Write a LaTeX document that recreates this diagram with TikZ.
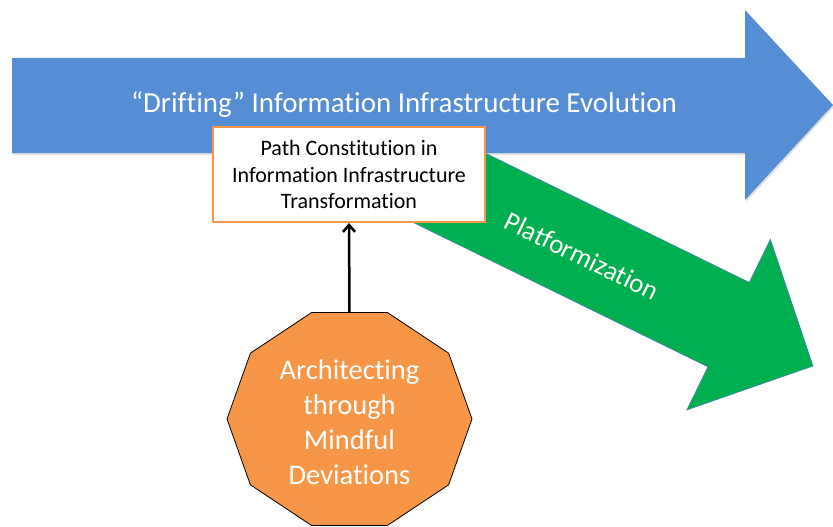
\documentclass[tikz,border=0pt]{standalone}
\usepackage{fontspec}
\setmainfont{Carlito}[Ligatures=NoCommon]
\usetikzlibrary{arrows.meta, shadows}

\definecolor{evoblue}{HTML}{558ED5}
\definecolor{platgreen}{HTML}{00B050}
\definecolor{edgeblue}{HTML}{4A7EBB}
\definecolor{boxorange}{HTML}{F79646}
\definecolor{archorange}{HTML}{F79646}

\begin{document}
\begin{tikzpicture}[
  x=1pt, y=-1pt,
  evoarrow/.style={fill=evoblue, draw=none, drop shadow={opacity=0.25, shadow xshift=1pt, shadow yshift=-2pt}},
  platarrow/.style={fill=platgreen, draw=edgeblue, line width=0.6pt},
  pathbox/.style={draw=boxorange, line width=2pt, fill=white, minimum width=272pt, minimum height=95pt, align=center, inner sep=0pt, font=\fontsize{22}{26.5}\selectfont},
  decagon/.style={fill=archorange, draw=black, line width=0.8pt},
  evolabel/.style={text=white, font=\fontsize{29}{35}\selectfont},
  platlabel/.style={text=white, rotate=-26, font=\fontsize{27}{32}\selectfont},
  archlabel/.style={text=white, align=center, font=\fontsize{28.5}{35}\selectfont},
  arrow/.style={-{Straight Barb[length=7pt, width=12pt]}, line width=2.5pt, color=black}
]
\useasboundingbox (0,0) rectangle (833,527);

% --- 1. Platformization ---
\begin{scope}[shift={(813,366)}, rotate=-26.1]
  \filldraw[platarrow] (0,0) -- (-94,-95) -- (-94,-47) -- (-460,-47) -- (-460,47) -- (-94,47) -- (-94,95) -- cycle;
\end{scope}
\node[platlabel] (plat) at (582,256) {Platformization};

% --- 2. Evolution ---
\filldraw[evoarrow] (12,58) -- (745,58) -- (745,10) -- (833,105) -- (745,200) -- (745,153) -- (12,153) -- cycle;
\node[evolabel] (evo) at (404,105) {“Drifting” Information Infrastructure Evolution};

% --- 3. Path constitution ---
\node[pathbox] (pathc) at (349,174.5) {Path Constitution in\\Information Infrastructure\\Transformation};

% --- 4. Architecting ---
\filldraw[decagon] (472,419) \foreach \a in {36,72,...,324} { -- ({349.5+122.5*cos(\a)},{419-112*sin(\a)}) } -- cycle;
\node[archlabel] (arch) at (349.5,422) {Architecting\\through\\Mindful\\Deviations};
\coordinate (archtop) at (349.5,312.5);

\draw[arrow] (archtop) -- (pathc.south);

\end{tikzpicture}
\end{document}
